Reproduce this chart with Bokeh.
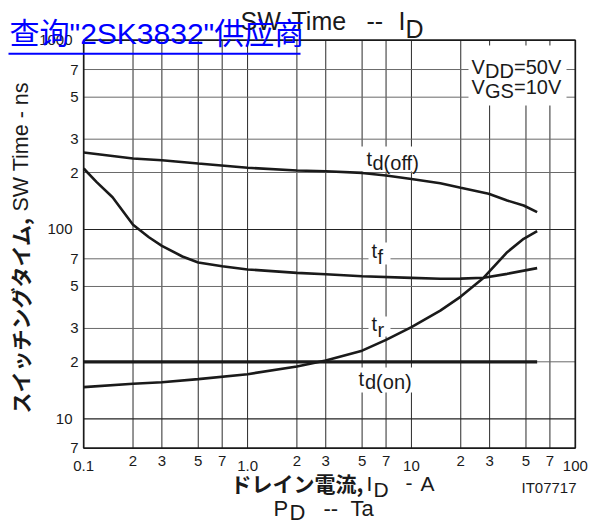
import math
from bokeh.plotting import figure
from bokeh.models import Label, Range1d
from bokeh.embed import file_html
from bokeh.resources import INLINE

# ---------------- data ----------------
id_td_off = [0.1, 0.2, 0.3, 0.5, 1, 2, 3, 5, 7, 10, 15, 20, 29.6, 38.4, 48.4, 58.5]
td_off = [255, 237, 232, 223, 212, 205, 203, 199, 193, 185, 175.6, 166, 154.4, 142.3, 133.9, 123.4]

id_tf = [0.1, 0.12, 0.15, 0.2, 0.25, 0.3, 0.4, 0.5, 0.7, 1, 2, 3, 5, 10, 15, 20, 27.6, 38.4, 58.5]
tf = [210, 178, 148, 106, 91, 82, 72, 67, 64, 61.5, 59, 58, 56.6, 55.5, 54.9, 55, 55.6, 58.3, 62.5]

id_tr = [0.1, 0.2, 0.3, 0.5, 1, 2, 3, 5, 7, 10, 15, 20, 27.6, 38.4, 48.4, 58.5]
tr = [14.7, 15.3, 15.6, 16.2, 17.2, 18.9, 20.3, 22.9, 26.1, 30.5, 37.3, 44.2, 55.6, 75.9, 89.3, 98]

id_td_on = [0.1, 58.5]
td_on = [20, 20]

x_minor_ticks = [0.2, 0.3, 0.5, 0.7, 2, 3, 5, 7, 20, 30, 50, 70]
x_minor_labels = ["2", "3", "5", "7"] * 3
x_decade_ticks = [0.1, 1, 10, 100]
x_decade_labels = ["0.1", "1.0", "10", "100"]

y_minor_ticks = [7, 20, 30, 50, 70, 200, 300, 500, 700]
y_minor_labels = ["7", "2", "3", "5", "7", "2", "3", "5", "7"]
y_decade_ticks = [10, 100, 1000]
y_decade_labels = ["10", "100", "1000"]

x_grid_ticks = [0.2, 0.3, 0.5, 0.7, 1, 2, 3, 5, 7, 10, 20, 30, 50, 70]
y_grid_minor = [20, 30, 50, 70, 200, 300, 500, 700]
y_grid_decade = [10, 100]

X_MIN, X_MAX = 0.1, 100
Y_MIN, Y_MAX = 7, 1000

# ---------------- layout (pixels) ----------------
W, H = 589, 524
PL, PR = 83.2, 574.8          # plot box left / right
PT, PB = 39.7, 447.6          # plot box top / bottom
DECX = (PR - PL) / math.log10(X_MAX / X_MIN)
DECY = (PB - PT) / math.log10(Y_MAX / Y_MIN)
XS = X_MIN * 10 ** (-PL / DECX)
XE = X_MAX * 10 ** ((W - PR) / DECX)
YE = Y_MAX * 10 ** (PT / DECY)
YS = Y_MIN * 10 ** (-(H - PB) / DECY)

FONT = "Liberation Sans"
JP = "Noto Sans CJK JP"
INK = "#1a1a1a"


def dx(px):
    return XS * 10 ** (px / DECX)


def dy(py):
    return YE * 10 ** (-py / DECY)


p = figure(width=W, height=H, x_axis_type="log", y_axis_type="log",
           x_range=Range1d(XS, XE), y_range=Range1d(YS, YE),
           output_backend="svg", toolbar_location=None, title=None,
           min_border=0, min_border_left=0, min_border_right=0,
           min_border_top=0, min_border_bottom=0)
p.axis.visible = False
p.grid.visible = False
p.background_fill_color = "white"
p.border_fill_color = "white"
p.outline_line_color = None

# grid lines inside the plot box
p.segment(x0=x_grid_ticks, y0=[Y_MIN] * len(x_grid_ticks),
          x1=x_grid_ticks, y1=[Y_MAX] * len(x_grid_ticks),
          line_color="#2b2b2b", line_width=1)
p.segment(x0=[X_MIN] * len(y_grid_minor), y0=y_grid_minor,
          x1=[X_MAX] * len(y_grid_minor), y1=y_grid_minor,
          line_color="#6a6a6a", line_width=1)
p.segment(x0=[X_MIN] * len(y_grid_decade), y0=y_grid_decade,
          x1=[X_MAX] * len(y_grid_decade), y1=y_grid_decade,
          line_color="#222222", line_width=1.2)

# white label boxes breaking the grid
boxes = [(356, 428, 146, 171), (368, 390, 242, 264), (368, 390, 316, 336),
         (355, 417, 367, 392), (468, 566, 45, 105)]
p.quad(left=[dx(b[0]) for b in boxes], right=[dx(b[1]) for b in boxes],
       top=[dy(b[2]) for b in boxes], bottom=[dy(b[3]) for b in boxes],
       fill_color="white", line_color=None)

# frame
p.quad(left=[X_MIN], right=[X_MAX], bottom=[Y_MIN], top=[Y_MAX],
       fill_color=None, line_color=INK, line_width=1.7)

# curves
p.line(id_td_off, td_off, line_color=INK, line_width=2.6)
p.line(id_tf, tf, line_color=INK, line_width=2.6)
p.line(id_tr, tr, line_color=INK, line_width=2.6)
p.line(id_td_on, td_on, line_color=INK, line_width=3.2)


def lab(text, x, base, size, font=FONT, style="normal", color=INK, align="left"):
    """place text whose alphabetic baseline is at page-pixel y = base"""
    k = 0.436 if font == JP else 0.35
    p.add_layout(Label(x=dx(x), y=dy(base - k * size), text=text, text_font=font,
                       text_font_size=f"{size}px", text_font_style=style,
                       text_color=color, text_align=align, text_baseline="middle"))


def vlab(text, xmid, start, size, font=FONT, style="normal"):
    """rotated text reading bottom-to-top, centred on page-pixel x = xmid"""
    p.add_layout(Label(x=dx(xmid), y=dy(start), text=text, text_font=font,
                       text_font_size=f"{size}px", text_font_style=style,
                       text_color=INK, text_align="left", text_baseline="middle",
                       angle=math.pi / 2))


# tick labels
for t, s in zip(x_minor_ticks, x_minor_labels):
    p.add_layout(Label(x=t, y=dy(466 - 5.25), text=s, text_font=FONT,
                       text_font_size="15px", text_color=INK, text_align="center",
                       text_baseline="middle"))
for t, s in zip(x_decade_ticks, x_decade_labels):
    p.add_layout(Label(x=t, y=dy(470.7 - 5.25), text=s, text_font=FONT,
                       text_font_size="15px", text_color=INK, text_align="center",
                       text_baseline="middle"))
for t, s in zip(y_minor_ticks, y_minor_labels):
    p.add_layout(Label(x=dx(78), y=t, text=s, text_font=FONT, text_font_size="15px",
                       text_color=INK, text_align="right", text_baseline="middle"))
for t, s in zip(y_decade_ticks, y_decade_labels):
    p.add_layout(Label(x=dx(72), y=t, text=s, text_font=FONT, text_font_size="15px",
                       text_color=INK, text_align="right", text_baseline="middle"))

# curve labels
lab("t", 366, 165, 20); lab("d(off)", 372, 169.5, 20)
lab("t", 371, 257, 20); lab("f", 377, 263, 20)
lab("t", 371, 330, 20); lab("r", 377, 336, 20)
lab("t", 358, 385, 20); lab("d(on)", 364.5, 388.5, 20)

# conditions
lab("V", 471, 73.3, 20); lab("DD", 484.5, 77, 20); lab("=50V", 513.5, 73.3, 20)
lab("V", 471, 93.3, 20); lab("GS", 484.5, 97.5, 20); lab("=10V", 513.5, 93.3, 20)

# title
lab("SW", 240, 29.5, 25); lab("Time", 291, 29.5, 25); lab("--", 366, 29.5, 25)
lab("I", 398, 29.5, 25); lab("D", 405, 37, 25)

# x axis label
lab("ドレイン電流,", 230, 491.5, 21, font=JP, style="bold")
lab("I", 366, 490, 21); lab("D", 373, 496.5, 21)
lab("-", 405, 490, 21); lab("A", 420, 490, 21)
lab("IT07717", 576, 492, 15, align="right")

# second caption
lab("P", 273, 515.5, 22); lab("D", 289, 519.3, 22)
lab("--", 323, 515.5, 22); lab("Ta", 350, 515.5, 22)

# y axis label (rotated)
vlab("スイッチングタイム,", 19.5, 413, 21, font=JP, style="bold")
vlab("SW Time - ns", 20, 211, 21.5)

# blue link overlay
lab('查询"2SK3832"供应商', 9, 43.3, 30, font="Liberation Sans, Noto Sans CJK SC",
    color="#0000ff")
p.quad(left=[dx(8)], right=[dx(300)], top=[dy(52.3)], bottom=[dy(54.3)],
       fill_color="#0000ff", line_color=None, level="overlay")

open("out.html", "w").write(file_html(p, INLINE))
